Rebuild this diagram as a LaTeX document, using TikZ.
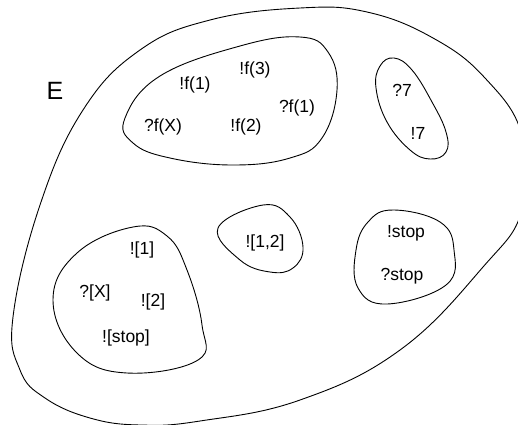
\documentclass[tikz,border=0pt]{standalone}
\usepackage{fontspec}
\setmainfont{Liberation Sans}
\begin{document}
\begin{tikzpicture}[x=1pt,y=-1pt,
  blob/.style={draw=black,line width=0.9pt},
  lbl/.style={font=\fontsize{17.5}{20}\selectfont,inner sep=0pt}]
\useasboundingbox (0,0) rectangle (518,424);
\clip (0,0) rectangle (518,424);
% outer set E
\draw[blob] plot[smooth cycle,tension=0.7] coordinates {
  (300,8) (367,12) (433,38) (485,78) (522,135) (522,210) (483,267)
  (400,350) (300,400) (200,421) (140,425) (90,418) (45,398) (20,370)
  (13,317) (40,205) (83,110) (140,50) (210,20)};
\node[lbl,font=\fontsize{25}{28}\selectfont] (E) at (55,91) {E};
% f-messages
\draw[blob] plot[smooth cycle,tension=0.7] coordinates {
  (125,118) (160,76) (240,46) (300,37) (328,52) (337,90) (322,138)
  (290,158) (233,165) (170,158) (133,143)};
\node[lbl] (f1) at (195,85) {!f(1)};
\node[lbl] (f3) at (255,70) {!f(3)};
\node[lbl] (qf1) at (297,108) {?f(1)};
\node[lbl] (qfX) at (163,127) {?f(X)};
\node[lbl] (f2) at (246,127) {!f(2)};
% sevens
\draw[blob] plot[smooth cycle,tension=0.7] coordinates {
  (394,58) (412,70) (432,102) (446,132) (446,152) (430,159) (410,150)
  (387,122) (376,88) (380,66)};
\node[lbl] (q7) at (402,90) {?7};
\node[lbl] (e7) at (418,133) {!7};
% lists
\draw[blob] plot[smooth cycle,tension=0.7] coordinates {
  (133,227) (167,236) (187,270) (202,325) (198,360) (127,373)
  (77,353) (53,300) (77,253)};
\node[lbl] (l1) at (142,250) {![1]};
\node[lbl] (lX) at (95,293) {?[X]};
\node[lbl] (l2) at (153,302) {![2]};
\node[lbl] (ls) at (126,338) {![stop]};
% pair list
\draw[blob] plot[smooth cycle,tension=0.7] coordinates {
  (218,228) (263,205) (290,217) (303,247) (293,268) (270,272) (240,260)};
\node[lbl] (l12) at (265,243) {![1,2]};
% stop
\draw[blob] plot[smooth cycle,tension=0.7] coordinates {
  (393,210) (440,222) (454,250) (446,285) (387,304) (358,288) (356,250)
  (368,222)};
\node[lbl] (s1) at (406,233) {!stop};
\node[lbl] (s2) at (402,276) {?stop};
\end{tikzpicture}
\end{document}
